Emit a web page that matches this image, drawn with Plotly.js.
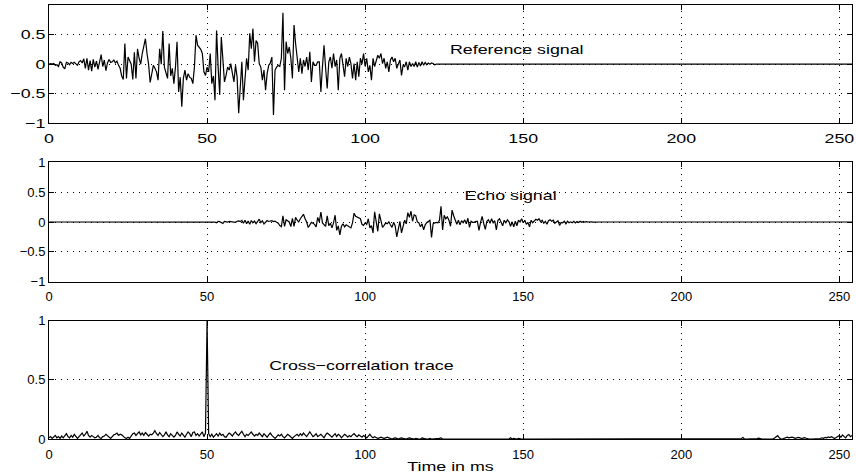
<!DOCTYPE html>
<html><head><meta charset="utf-8">
<script src="https://cdn.plot.ly/plotly-3.0.1.min.js"></script>
<style>html,body{margin:0;padding:0;background:#fff}#chart{width:856px;height:475px}</style>
</head><body><div id="chart"></div>
<script>
// sampling step (ms) and displayed time span
const dt = 0.5;
const tEnd = 254;

// Reference signal, t = 0 .. 124.5 ms (0.5 ms steps); zero afterwards
const refSignal = [
 0, 0.01, 0, 0.01, -0.02, -0.01, -0.04, 0.04, 0.02, -0.05,
 -0.08, 0.03, 0.02, -0.01, 0.03, 0.01, 0.03, 0, -0.02, 0.04,
 0.06, 0.02, 0.09, -0.07, 0.1, -0.1, 0.06, -0.12, 0.08, -0.05,
 0.05, -0.09, 0.03, 0.16, -0.04, 0.07, -0.11, 0.02, 0.08, 0.03,
 0.04, 0.07, 0.02, 0.05, -0.02, -0.07, -0.2, -0.26, 0.35, -0.24,
 0.12, 0.05, 0, -0.26, 0.2, -0.24, 0.26, 0.1, 0, 0.18,
 0.3, 0.43, 0.18, 0, -0.31, -0.15, -0.02, -0.07, -0.13, -0.27,
 0.26, 0, 0.56, -0.05, -0.15, -0.24, 0.35, -0.2, -0.07, -0.33,
 -0.05, 0.38, -0.47, -0.22, -0.72, -0.24, -0.1, -0.27, -0.16, -0.22,
 -0.24, -0.33, -0.05, 0.49, 0.32, 0.28, 0.25, 0.18, -0.13, -0.19,
 -0.05, -0.13, 0.18, -0.33, -0.2, -0.61, 0.57, -0.05, -0.52, 0.46,
 0.07, -0.3, -0.19, -0.05, -0.1, 0.01, -0.15, -0.3, -0.02, -0.22,
 -0.83, -0.47, 0.04, -0.61, -0.16, 0.1, -0.1, 0.52, 0.26, 0.6,
 0.04, 0.4, 0.35, 0.01, -0.05, -0.27, -0.1, -0.44, -0.16, -0.02,
 0.02, 0.12, -0.86, -0.1, -0.05, -0.02, -0.04, 0.1, 0.87, -0.44,
 0.38, 0.18, 0.29, 0.1, -0.24, 0.66, 0.35, 0.15, -0.13, 0.1,
 -0.16, 0.07, -0.04, 0.12, -0.1, 0.21, -0.3, 0.04, -0.02, -0.02,
 0.04, 0.04, -0.47, -0.04, 0.32, -0.07, -0.41, 0.04, 0.12, -0.07,
 0.18, -0.04, 0.07, -0.44, 0.1, 0.18, 0.01, -0.21, 0.1, -0.04,
 0.12, 0.01, -0.24, 0.01, -0.27, 0.04, -0.21, 0.1, 0, 0.18,
 -0.04, 0.1, -0.13, -0.02, -0.27, 0.1, -0.04, 0.04, 0.15, 0.1,
 0.18, 0.01, 0.1, -0.07, 0.04, -0.13, 0.07, 0.12, 0.04, 0.1,
 -0.07, 0, 0.07, -0.19, -0.02, -0.04, 0.04, -0.1, 0.04, -0.04,
 0.01, -0.04, 0.04, -0.05, 0.03, -0.03, 0.04, -0.02, 0.03, -0.01,
 0.02, 0, 0.02, 0.01, -0.01, 0, 0, 0, 0, 0
];

// Echo signal, starting at the echo delay (50 ms), 0.5 ms steps; zero elsewhere
const echoDelay = 50;
const echoSignal = [
 0, 0.003, 0, 0.003, -0.006, -0.003, -0.012, 0.012, 0.006, -0.015,
 -0.024, 0.009, 0.006, -0.003, 0.009, 0.003, 0.009, 0, -0.006, 0.012,
 0.018, 0.006, 0.027, -0.021, 0.03, -0.03, 0.018, -0.036, 0.024, -0.015,
 0.015, -0.027, 0.009, 0.048, -0.012, 0.021, -0.033, 0.006, 0.024, 0.009,
 0.012, 0.021, 0.006, 0.015, -0.006, -0.021, -0.06, -0.078, 0.105, -0.072,
 0.036, 0.015, 0, -0.078, 0.06, -0.072, 0.078, 0.03, 0, 0.054,
 0.09, 0.129, 0.054, 0, -0.093, -0.045, -0.006, -0.021, -0.039, -0.081,
 0.078, 0, 0.168, -0.015, -0.045, -0.072, 0.105, -0.06, -0.021, -0.099,
 -0.015, 0.114, -0.141, -0.066, -0.216, -0.072, -0.03, -0.081, -0.048, -0.066,
 -0.072, -0.099, -0.015, 0.147, 0.096, 0.084, 0.075, 0.054, -0.039, -0.057,
 -0.015, -0.039, 0.054, -0.099, -0.06, -0.183, 0.171, -0.015, -0.156, 0.138,
 0.021, -0.09, -0.057, -0.015, -0.03, 0.003, -0.045, -0.09, -0.006, -0.066,
 -0.249, -0.141, 0.012, -0.183, -0.048, 0.03, -0.03, 0.156, 0.078, 0.18,
 0.012, 0.12, 0.105, 0.003, -0.015, -0.081, -0.03, -0.132, -0.048, -0.006,
 0.006, 0.036, -0.258, -0.03, -0.015, -0.006, -0.012, 0.03, 0.261, -0.132,
 0.114, 0.054, 0.087, 0.03, -0.072, 0.198, 0.105, 0.045, -0.039, 0.03,
 -0.048, 0.021, -0.012, 0.036, -0.03, 0.063, -0.09, 0.012, -0.006, -0.006,
 0.012, 0.012, -0.141, -0.012, 0.096, -0.021, -0.123, 0.012, 0.036, -0.021,
 0.054, -0.012, 0.021, -0.132, 0.03, 0.054, 0.003, -0.063, 0.03, -0.012,
 0.036, 0.003, -0.072, 0.003, -0.081, 0.012, -0.063, 0.03, 0, 0.054,
 -0.012, 0.03, -0.039, -0.006, -0.081, 0.03, -0.012, 0.012, 0.045, 0.03,
 0.054, 0.003, 0.03, -0.021, 0.012, -0.039, 0.021, 0.036, 0.012, 0.03,
 -0.021, 0, 0.021, -0.057, -0.006, -0.012, 0.012, -0.03, 0.012, -0.012,
 0.003, -0.012, 0.012, -0.015, 0.009, -0.009, 0.012, -0.006, 0.009, -0.003,
 0.006, 0, 0.006, 0.003, -0.003, 0, 0, 0, 0, 0
];

// Cross-correlation trace, t = 0 .. 127.5 ms (0.5 ms steps)
const xcorrMain = [
 0.01, 0.02, 0.005, 0.015, 0.03, 0.01, 0.02, 0.005, 0.025, 0.01,
 0.03, 0.045, 0.02, 0.01, 0.03, 0.015, 0.04, 0.02, 0.005, 0.02,
 0.035, 0.05, 0.025, 0.04, 0.065, 0.03, 0.015, 0.03, 0.02, 0.01,
 0.015, 0.03, 0.01, 0.005, 0.02, 0.025, 0.04, 0.03, 0.015, 0.005,
 0.02, 0.035, 0.04, 0.05, 0.03, 0.04, 0.035, 0.02, 0.01, 0.005,
 0.015, 0.005, 0.03, 0.045, 0.05, 0.03, 0.045, 0.06, 0.035, 0.05,
 0.03, 0.055, 0.04, 0.025, 0.04, 0.035, 0.05, 0.07, 0.045, 0.03,
 0.055, 0.04, 0.02, 0.035, 0.06, 0.035, 0.02, 0.045, 0.03, 0.015,
 0.03, 0.06, 0.04, 0.025, 0.05, 0.03, 0.015, 0.04, 0.06, 0.045,
 0.02, 0.055, 0.06, 0.03, 0.045, 0.025, 0.04, 0.06, 0.02, 0.05,
 1, 0.045, 0.02, 0.04, 0.015, 0.035, 0.045, 0.025, 0.05, 0.03,
 0.04, 0.02, 0.015, 0.035, 0.05, 0.04, 0.025, 0.045, 0.06, 0.04,
 0.03, 0.05, 0.065, 0.04, 0.02, 0.04, 0.03, 0.045, 0.06, 0.04,
 0.025, 0.04, 0.03, 0.05, 0.035, 0.02, 0.045, 0.03, 0.015, 0.035,
 0.05, 0.03, 0.015, 0.005, 0.02, 0.035, 0.025, 0.04, 0.02, 0.01,
 0.025, 0.04, 0.03, 0.015, 0.005, 0.02, 0.03, 0.04, 0.025, 0.045,
 0.03, 0.05, 0.035, 0.02, 0.04, 0.06, 0.04, 0.02, 0.03, 0.045,
 0.02, 0.03, 0.04, 0.025, 0.01, 0.035, 0.05, 0.04, 0.025, 0.015,
 0.03, 0.045, 0.02, 0.04, 0.03, 0.01, 0.025, 0.04, 0.03, 0.015,
 0.03, 0.02, 0.035, 0.045, 0.03, 0.02, 0.035, 0.025, 0.015, 0.03,
 0.02, 0.01, 0.025, 0.04, 0.02, 0.01, 0.02, 0.015, 0.005, 0.01,
 0.015, 0.01, 0.005, 0.01, 0.015, 0.01, 0.005, 0, 0.005, 0.01,
 0.005, 0, 0.005, 0.01, 0.005, 0, 0, 0.005, 0.01, 0.005,
 0, 0, 0.005, 0, 0, 0, 0.01, 0.005, 0, 0,
 0, 0.005, 0, 0, 0, 0, 0, 0.005, 0.01, 0,
 0, 0, 0, 0, 0.005, 0
];
// Cross-correlation trace, t = 128 .. 254 ms (0.5 ms steps)
const xcorrTail = [
 0, 0, 0, 0, 0, 0, 0, 0, 0, 0,
 0.005, 0, 0, 0, 0, 0, 0, 0, 0, 0,
 0, 0, 0, 0, 0.005, 0, 0, 0, 0, 0,
 0, 0, 0, 0,
 0.005, 0, 0.01, 0, 0.005, 0, 0, 0.005, 0, 0,
 0, 0, 0, 0, 0, 0, 0, 0, 0, 0,
 0, 0, 0, 0, 0, 0, 0, 0, 0, 0,
 0.005, 0, 0, 0, 0, 0, 0, 0, 0, 0,
 0, 0, 0, 0, 0, 0, 0, 0, 0, 0,
 0, 0, 0, 0, 0.003, 0, 0, 0, 0, 0,
 0, 0, 0, 0, 0, 0, 0, 0, 0, 0,
 0, 0, 0, 0, 0, 0, 0, 0, 0, 0,
 0, 0, 0, 0, 0, 0, 0, 0, 0, 0,
 0, 0, 0, 0, 0, 0, 0, 0, 0, 0,
 0, 0, 0, 0, 0, 0, 0, 0, 0, 0,
 0, 0, 0, 0, 0, 0, 0, 0, 0, 0,
 0, 0, 0, 0, 0, 0, 0, 0, 0, 0,
 0, 0, 0, 0, 0, 0, 0, 0, 0, 0,
 0, 0.006, 0, 0, 0, 0, 0, 0, 0.004, 0.012,
 0, 0, 0, 0, 0, 0, 0, 0, 0.004, 0.008,
 0.002, 0, 0, 0, 0, 0, 0, 0, 0, 0.008,
 0.02, 0.028, 0.01, 0, 0, 0.004, 0.012, 0.016, 0.01, 0.014,
 0.016, 0.012, 0.006, 0.01, 0.014, 0.01, 0.004, 0.008, 0.012, 0.006,
 0, 0, 0, 0, 0, 0, 0, 0, 0.004, 0.01,
 0.006, 0.014, 0.01, 0.018, 0.012, 0.02, 0.01, 0.004, 0.012, 0.02,
 0.03, 0.015, 0.035, 0.02, 0.01, 0.03, 0.038, 0.02, 0.03
];

const xTicks = [0, 50, 100, 150, 200, 250];
const sigTicks = [-1, -0.5, 0, 0.5, 1];
const xcTicks = [0, 0.5, 1];
const labelRef = 'Reference signal';
const labelEcho = 'Echo signal';
const labelXc = 'Cross\u2212correlation trace';
const xTitle = 'Time in ms';

const n = Math.round(tEnd / dt) + 1;
const t = Array.from({length: n}, (_, i) => i * dt);
function pad(arr, start) {
  const out = new Array(n).fill(0);
  arr.forEach((v, i) => { if (start + i < n) out[start + i] = v; });
  return out;
}
const refFull = pad(refSignal, 0);
const echoFull = pad(echoSignal, Math.round(echoDelay / dt));
const xcFull = pad(xcorrMain.concat(xcorrTail), 0);

const FONT = 'Liberation Sans, Arial, Helvetica, sans-serif';
const FS = 13;
const STRETCH = 1.37; // reference glyphs are horizontally wide
const lineStyle = {color: '#000', width: 1.2};

const traces = [
  {x: t, y: refFull, type: 'scatter', mode: 'lines', line: lineStyle, xaxis: 'x', yaxis: 'y', hoverinfo: 'skip'},
  {x: t, y: echoFull, type: 'scatter', mode: 'lines', line: lineStyle, xaxis: 'x2', yaxis: 'y2', hoverinfo: 'skip'},
  {x: t, y: xcFull, type: 'scatter', mode: 'lines', line: lineStyle, xaxis: 'x3', yaxis: 'y3', hoverinfo: 'skip'}
];

const common = {
  showline: true, linecolor: '#000', linewidth: 1, mirror: 'ticks',
  ticks: 'inside', ticklen: 5, tickcolor: '#000', tickwidth: 1,
  showgrid: true, gridcolor: '#000', gridwidth: 1, griddash: '1px,5px',
  zeroline: false, tickfont: {family: FONT, size: FS, color: '#000'}
};
function xAx(anchor, extra) {
  return Object.assign({}, common, {
    anchor: anchor, range: [0, tEnd], tickvals: xTicks, ticktext: xTicks.map(String),
    ticklabelstandoff: 3
  }, extra || {});
}
function yAx(anchor, domain, range, ticks) {
  return Object.assign({}, common, {anchor: anchor, domain: domain, range: range, tickvals: ticks});
}

const annFont = {family: FONT, size: FS, color: '#000'};
const layout = {
  width: 856, height: 475,
  margin: {l: 49, r: 4, t: 5, b: 36},
  paper_bgcolor: '#fff', plot_bgcolor: '#fff',
  showlegend: false,
  font: {family: FONT, size: FS, color: '#000'},
  xaxis: xAx('y'),
  yaxis: yAx('x', [0.7274, 1], [-1, 1], sigTicks),
  xaxis2: xAx('y2'),
  yaxis2: yAx('x2', [0.3624, 0.6376], [-1, 1], sigTicks),
  xaxis3: xAx('y3', {title: {text: xTitle, font: {family: FONT, size: FS, color: '#000'}, standoff: 1}}),
  yaxis3: yAx('x3', [0, 0.2726], [0, 1], xcTicks),
  annotations: [
    {text: labelRef, x: 148.1, y: 0.24, xref: 'x', yref: 'y', xanchor: 'center', yanchor: 'middle', showarrow: false, font: annFont},
    {text: labelEcho, x: 146.1, y: 0.45, xref: 'x2', yref: 'y2', xanchor: 'center', yanchor: 'middle', showarrow: false, font: annFont},
    {text: labelXc, x: 98.7, y: 0.62, xref: 'x3', yref: 'y3', xanchor: 'center', yanchor: 'middle', showarrow: false, font: annFont}
  ]
};

function stretchText() {
  const sel = '#chart .xtick text, #chart .ytick text, #chart .annotation-text, #chart text.x3title';
  document.querySelectorAll(sel).forEach(el => {
    const x = parseFloat(el.getAttribute('x')) || 0;
    const y = parseFloat(el.getAttribute('y')) || 0;
    const t0 = el.getAttribute('transform') || '';
    el.setAttribute('transform', t0 + ' translate(' + x + ',' + y + ') scale(' + STRETCH + ',1) translate(' + (-x) + ',' + (-y) + ')');
  });
}

Plotly.newPlot('chart', traces, layout, {displayModeBar: false, staticPlot: true}).then(stretchText);
</script>
</body></html>
